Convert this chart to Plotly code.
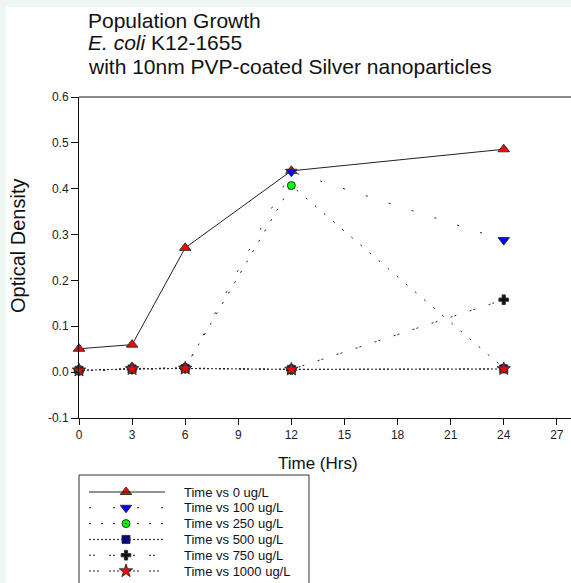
import plotly.graph_objects as go

# ---------------- data ----------------
time_hrs = [0, 3, 6, 12, 24]
od_0 = [0.051, 0.060, 0.271, 0.439, 0.486]
od_100 = [0.003, 0.006, 0.008, 0.437, 0.288]
od_250 = [0.003, 0.006, 0.010, 0.407, 0.009]
od_500 = [0.004, 0.007, 0.008, 0.006, 0.007]
od_750 = [0.004, 0.008, 0.009, 0.006, 0.158]
od_1000 = [0.004, 0.007, 0.008, 0.006, 0.007]

series_names = ["Time vs 0 ug/L", "Time vs 100 ug/L", "Time vs 250 ug/L",
                "Time vs 500 ug/L", "Time vs 750 ug/L", "Time vs 1000 ug/L"]
x_tick_vals = [0, 3, 6, 9, 12, 15, 18, 21, 24, 27]
y_tick_vals = [-0.1, 0.0, 0.1, 0.2, 0.3, 0.4, 0.5, 0.6]
y_tick_text = ["-0.1", "0.0", "0.1", "0.2", "0.3", "0.4", "0.5", "0.6"]

title_lines = ["Population Growth", "<i>E. coli</i> K12-1655",
               "with 10nm PVP-coated Silver nanoparticles"]

# ---------------- styles / layout geometry ----------------
W, H = 571, 583
ML, MR, MT, MB = 79, 0, 97, 0
PW, PH = W - ML - MR, H - MT - MB
PLOT_BOTTOM_PX = 418
FONT = "Liberation Sans, Arial, sans-serif"
LINE_COL = "#222222"
EDGE = "#333333"

styles = [
    dict(dash="solid", symbol="triangle-up", color="#ff0000", size=10),
    dict(dash="2px,22px", symbol="triangle-down", color="#0000ff", size=10),
    dict(dash="2px,10px", symbol="circle", color="#00ff00", size=8),
    dict(dash="2px,2px", symbol="square", color="#000080", size=8),
    dict(dash="2px,2px,2px,14px", symbol="cross", color="#111111", size=8),
    dict(dash="2px,2px,2px,2px,2px,10px", symbol="star", color="#ff0000", size=10),
]
series = [od_0, od_100, od_250, od_500, od_750, od_1000]


def px_x(px):
    return (px - ML) / PW


def px_y(py):
    return (H - MB - py) / PH


fig = go.Figure()
for name, ys, st in zip(series_names, series, styles):
    fig.add_trace(go.Scatter(
        x=time_hrs, y=ys, name=name, mode="lines+markers",
        line=dict(color=LINE_COL, width=1, dash=st["dash"]),
        marker=dict(symbol=st["symbol"], color=st["color"], size=st["size"],
                    line=dict(color=EDGE, width=1), opacity=1),
        cliponaxis=False, showlegend=False,
    ))

# ---- custom legend (box + sample lines + markers + labels) ----
LEG_LEFT, LEG_RIGHT, LEG_TOP = 79, 309, 475
ROW0, ROW_STEP = 492, 15.8
SAMPLE_X0, SAMPLE_X1, SAMPLE_MID, TEXT_X = 89, 165, 126, 183
row_px = [ROW0 + ROW_STEP * i for i in range(len(series_names))]

fig.add_trace(go.Scatter(
    x=[SAMPLE_MID - LEG_LEFT] * len(series_names),
    y=[r - LEG_TOP for r in row_px],
    mode="markers", xaxis="x2", yaxis="y2", showlegend=False, hoverinfo="skip",
    marker=dict(symbol=[s["symbol"] for s in styles],
                color=[s["color"] for s in styles],
                size=[s["size"] for s in styles],
                line=dict(color=EDGE, width=1), opacity=1),
    cliponaxis=False,
))

axis_font = dict(family=FONT, size=12, color="#222222")
fig.update_layout(
    xaxis=dict(range=[0, 27.8], tickvals=x_tick_vals, ticks="outside",
               ticklen=6, tickcolor="#111111", showline=True,
               linecolor="#111111", linewidth=1, showgrid=False,
               zeroline=False, tickfont=axis_font, domain=[0, 1], anchor="y"),
    yaxis=dict(range=[-0.1, 0.6], tickvals=y_tick_vals, ticktext=y_tick_text,
               ticks="outside", ticklen=7, tickcolor="#111111", showline=True,
               linecolor="#111111", linewidth=1, showgrid=False,
               zeroline=False, tickfont=axis_font,
               domain=[px_y(PLOT_BOTTOM_PX), 1], anchor="x"),
    xaxis2=dict(range=[0, LEG_RIGHT - LEG_LEFT], domain=[0, px_x(LEG_RIGHT)],
                visible=False, anchor="y2", fixedrange=True),
    yaxis2=dict(range=[H - LEG_TOP, 0], domain=[0, px_y(LEG_TOP)],
                visible=False, anchor="x2", fixedrange=True),
)

annotations = []
for txt, cy in zip(title_lines, [20, 43, 66]):
    annotations.append(dict(text=txt, xref="paper", yref="paper",
                            x=px_x(86), y=px_y(cy), xanchor="left", yanchor="middle",
                            showarrow=False,
                            font=dict(family=FONT, size=21, color="#111111")))
annotations.append(dict(text="Time (Hrs)", xref="paper", yref="paper",
                        x=px_x(318), y=px_y(463), xanchor="center", yanchor="middle",
                        showarrow=False, font=dict(family=FONT, size=17, color="#111111")))
annotations.append(dict(text="Optical Density", xref="paper", yref="paper",
                        x=px_x(18), y=px_y(246), xanchor="center", yanchor="middle",
                        textangle=-90, showarrow=False,
                        font=dict(family=FONT, size=20, color="#111111")))
for name, r in zip(series_names, row_px):
    annotations.append(dict(text=name, xref="paper", yref="paper",
                            x=px_x(TEXT_X - 1), y=px_y(r), xanchor="left",
                            yanchor="middle", showarrow=False,
                            font=dict(family=FONT, size=13, color="#111111")))

shapes = [
    dict(type="rect", xref="paper", yref="paper", x0=px_x(6), x1=px_x(W + 2),
         y0=px_y(H + 2), y1=px_y(7), fillcolor="white", line=dict(width=0),
         layer="below"),
    dict(type="line", xref="paper", yref="paper", x0=0, x1=1, y0=1, y1=1,
         line=dict(color="#8a8a8a", width=2)),
    dict(type="rect", xref="paper", yref="paper", x0=px_x(LEG_LEFT),
         x1=px_x(LEG_RIGHT), y0=px_y(H + 20), y1=px_y(LEG_TOP),
         fillcolor="white", line=dict(color=EDGE, width=1), layer="below"),
]
for st, r in zip(styles, row_px):
    shapes.append(dict(type="line", xref="paper", yref="paper",
                       x0=px_x(SAMPLE_X0), x1=px_x(SAMPLE_X1),
                       y0=px_y(r), y1=px_y(r),
                       line=dict(color=LINE_COL, width=1, dash=st["dash"])))

fig.update_layout(
    width=W, height=H, autosize=False,
    margin=dict(l=ML, r=MR, t=MT, b=MB, pad=0, autoexpand=False),
    paper_bgcolor="#eef7f3", plot_bgcolor="rgba(0,0,0,0)",
    font=dict(family=FONT, color="#111111"),
    showlegend=False,
    annotations=annotations,
    shapes=shapes,
)

fig.write_html("out.html", config={"displayModeBar": False},
               post_script="document.body.style.margin='0px';"
                           "document.body.style.overflow='hidden';")
